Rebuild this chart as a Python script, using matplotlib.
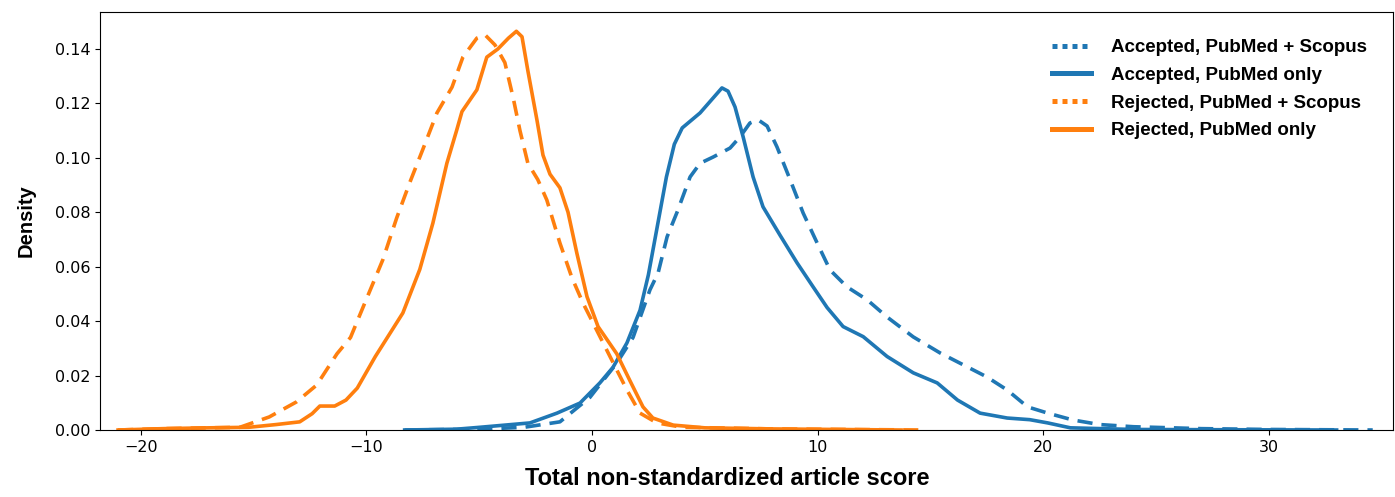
import matplotlib
matplotlib.use('Agg')
import matplotlib.pyplot as plt
from matplotlib.lines import Line2D

# ------------------------------------------------------------------
# curves (score, density)
acc_both_x = [-8.3, -5.0, -3.0, -1.42, -0.09, 1.1, 1.82, 2.57, 2.93, 3.33, 3.77, 4.35,
              4.79, 5.37, 6.12, 6.56, 7.0, 7.36, 7.76, 8.2, 8.78, 9.36, 9.98, 10.55,
              11.3, 12.2, 13.08, 14.24, 15.43, 16.63, 17.5, 18.4, 19.3, 20.2, 21.3,
              22.5, 24.0, 27.0, 30.0, 34.6]
acc_both_y = [0.0, 0.0003, 0.001, 0.003, 0.012, 0.0246, 0.034, 0.0515, 0.0577, 0.071,
              0.080, 0.093, 0.098, 0.1003, 0.1036, 0.1077, 0.1128, 0.114, 0.1117, 0.104,
              0.092, 0.0797, 0.0687, 0.0588, 0.0526, 0.0478, 0.0415, 0.0342, 0.0283,
              0.0232, 0.0195, 0.0147, 0.0085, 0.0062, 0.0037, 0.002, 0.0012, 0.0005,
              0.0002, 0.0]

acc_only_x = [-8.3, -6.0, -4.97, -2.75, -1.55, -0.53, 0.35, 0.93, 1.55, 2.13, 2.5, 2.9,
              3.3, 3.65, 4.0, 4.79, 5.37, 5.76, 6.03, 6.34, 6.7, 7.14, 7.58, 8.34, 9.09,
              9.8, 10.42, 11.13, 12.02, 13.08, 14.24, 15.3, 16.2, 17.2, 18.4, 19.4, 20.2,
              21.2, 24.0, 28.0, 33.0]
acc_only_y = [0.0, 0.0003, 0.001, 0.0026, 0.0062, 0.0099, 0.0173, 0.023, 0.032, 0.044,
              0.057, 0.075, 0.093, 0.105, 0.111, 0.1165, 0.122, 0.1257, 0.1245, 0.1187,
              0.1077, 0.093, 0.082, 0.0715, 0.0614, 0.0526, 0.045, 0.038, 0.0343, 0.027,
              0.021, 0.0173, 0.011, 0.0062, 0.0044, 0.0038, 0.0026, 0.0008, 0.0002,
              0.0001, 0.0]

rej_both_x = [-21.0, -19.0, -17.0, -15.6, -14.3, -13.1, -12.2, -11.3, -10.7, -10.0, -9.27,
              -8.65, -8.07, -7.5, -6.87, -6.2, -5.72, -5.1, -4.74, -4.3, -3.86, -3.5,
              -3.19, -2.84, -2.4, -2.0, -1.42, -0.89, -0.4, 0.13, 0.8, 1.55, 2.13, 2.88,
              4.0, 8.0, 14.7]
rej_both_y = [0.0, 0.0005, 0.0008, 0.001, 0.0048, 0.0103, 0.0165, 0.028, 0.034, 0.048,
              0.0625, 0.078, 0.091, 0.103, 0.1165, 0.126, 0.137, 0.144, 0.1452, 0.1415,
              0.135, 0.1224, 0.110, 0.098, 0.092, 0.0845, 0.0687, 0.056, 0.0467, 0.038,
              0.027, 0.0147, 0.0062, 0.0026, 0.001, 0.0004, 0.0]

rej_only_x = [-21.0, -19.0, -17.0, -15.2, -14.0, -12.95, -12.4, -12.06, -11.4, -10.9,
              -10.4, -9.6, -8.38, -7.63, -7.05, -6.43, -6.0, -5.76, -5.1, -4.66, -4.17,
              -3.7, -3.35, -3.1, -2.84, -2.44, -2.17, -1.86, -1.42, -1.06, -0.67, -0.22,
              0.27, 1.1, 1.69, 2.26, 2.7, 3.6, 5.0, 8.0, 13.7]
rej_only_y = [0.0, 0.0005, 0.0008, 0.001, 0.002, 0.003, 0.006, 0.0088, 0.0088, 0.011,
              0.0154, 0.027, 0.043, 0.059, 0.076, 0.098, 0.110, 0.117, 0.125, 0.137,
              0.140, 0.144, 0.1465, 0.1445, 0.132, 0.114, 0.101, 0.094, 0.089, 0.080,
              0.065, 0.049, 0.038, 0.028, 0.018, 0.0085, 0.0044, 0.0018, 0.0008, 0.0004,
              0.0]

labels = ['Accepted, PubMed + Scopus', 'Accepted, PubMed only',
          'Rejected, PubMed + Scopus', 'Rejected, PubMed only']

blue = '#1f77b4'
orange = '#ff7f0e'

# ------------------------------------------------------------------
fig = plt.figure(figsize=(13.95, 4.97), dpi=100)
ax = fig.add_axes([0.0717, 0.1348, 0.9269, 0.8411])

lw = 2.6
dash = (0, (4.2, 2.5))
ax.plot(acc_both_x, acc_both_y, color=blue, lw=lw, ls=dash)
ax.plot(acc_only_x, acc_only_y, color=blue, lw=lw, ls='-')
ax.plot(rej_both_x, rej_both_y, color=orange, lw=lw, ls=dash)
ax.plot(rej_only_x, rej_only_y, color=orange, lw=lw, ls='-')

ax.set_xlim(-21.8, 35.5)
ax.set_ylim(0, 0.1536)
ax.set_yticks([0.0, 0.02, 0.04, 0.06, 0.08, 0.10, 0.12, 0.14])
ax.set_xticks([-20, -10, 0, 10, 20, 30])
ax.tick_params(labelsize=11.5)

lab_font = dict(family='Liberation Sans', weight='bold')
ax.set_xlabel('Total non-standardized article score', fontsize=17, **lab_font)
ax.xaxis.set_label_coords(0.485, -0.088)
ax.set_ylabel('Density', fontsize=14.5, labelpad=14, **lab_font)

handles = [Line2D([], [], color=blue, lw=3.6, ls=(0, (1, 1))),
           Line2D([], [], color=blue, lw=3.6, ls='-'),
           Line2D([], [], color=orange, lw=3.6, ls=(0, (1, 1))),
           Line2D([], [], color=orange, lw=3.6, ls='-')]
ax.legend(handles, labels, loc='upper right', frameon=False,
          prop=dict(family='Liberation Sans', weight='bold', size=13.5),
          handlelength=2.1, handletextpad=1.05, labelspacing=0.56,
          bbox_to_anchor=(0.993, 0.975))

fig.savefig('out.png', dpi=100)
